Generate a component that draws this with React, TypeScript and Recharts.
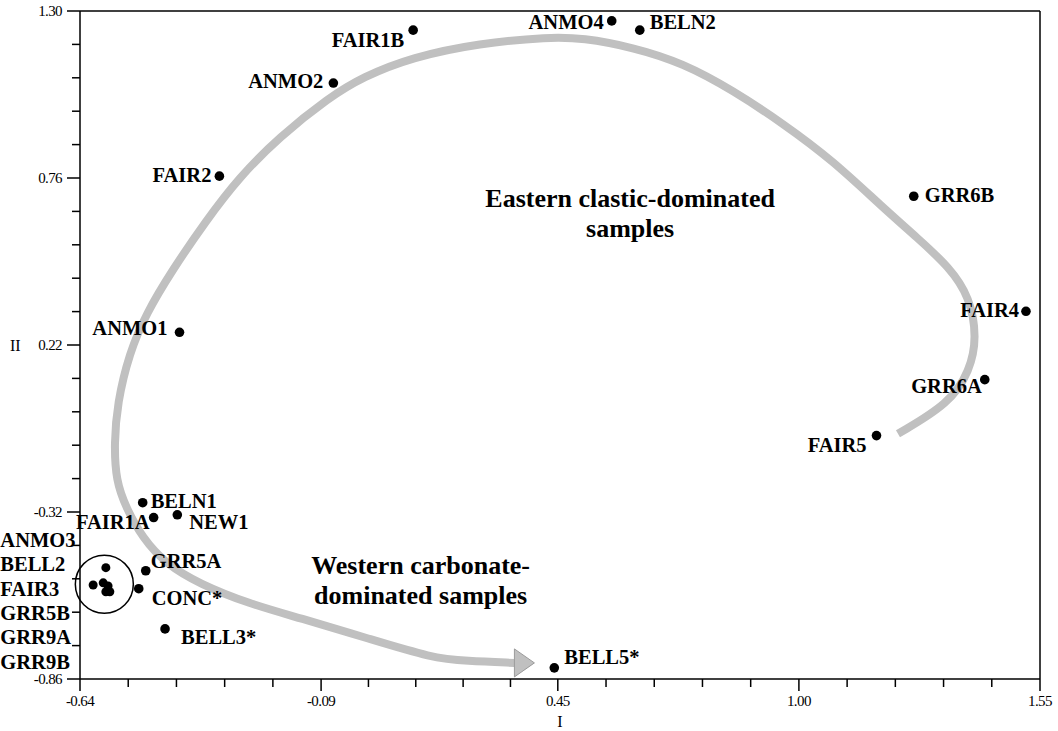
import { ComposedChart, Scatter, XAxis, YAxis, ReferenceDot } from "recharts";

// axis ticks (major, labelled); minor ticks split each gap into five
const xMajor = [-0.64, -0.09, 0.45, 1.0, 1.55];
const yMajor = [-0.86, -0.32, 0.22, 0.76, 1.3];

// individually labelled samples: scores on components I and II
const sampleNames = [
  "FAIR1B", "ANMO4", "BELN2", "ANMO2", "FAIR2", "GRR6B", "ANMO1", "FAIR4", "GRR6A",
  "FAIR5", "BELN1", "FAIR1A", "NEW1", "GRR5A", "CONC*", "BELL3*", "BELL5*",
];
const sampleI = [
  0.12, 0.573, 0.637, -0.062, -0.322, 1.262, -0.413, 1.518, 1.424,
  1.177, -0.497, -0.472, -0.418, -0.49, -0.506, -0.446, 0.442,
];
const sampleII = [
  1.238, 1.268, 1.238, 1.067, 0.766, 0.701, 0.261, 0.329, 0.108,
  -0.073, -0.29, -0.338, -0.329, -0.51, -0.568, -0.698, -0.824,
];

// tight western group, listed beside the circle
const clusterNames = ["ANMO3", "BELL2", "FAIR3", "GRR5B", "GRR9A", "GRR9B"];
const clusterI = [-0.581, -0.61, -0.587, -0.576, -0.581, -0.572];
const clusterII = [-0.5, -0.556, -0.549, -0.559, -0.578, -0.578];

// east-to-west trend arrow, traced from FAIR5 round to BELL5*
const trendI = [
  1.226, 1.344, 1.39, 1.406, 1.39, 1.344, 1.269, 1.191, 1.077, 0.963, 0.849, 0.735,
  0.621, 0.506, 0.431, 0.271, 0.118, 0.004, -0.071, -0.186, -0.277, -0.352, -0.43,
  -0.489, -0.528, -0.555, -0.562, -0.558, -0.535, -0.498, -0.444, -0.368, -0.254,
  -0.14, 0.02, 0.164, 0.241, 0.351,
];
const trendII = [
  -0.067, 0.031, 0.137, 0.244, 0.374, 0.471, 0.568, 0.665, 0.817, 0.937, 1.044, 1.132,
  1.183, 1.213, 1.216, 1.196, 1.151, 1.086, 1.021, 0.892, 0.762, 0.623, 0.461,
  0.322, 0.192, 0.031, -0.099, -0.219, -0.306, -0.403, -0.488, -0.552, -0.617,
  -0.662, -0.73, -0.792, -0.802, -0.808,
];

// group annotations
const noteLines = [
  ["Eastern clastic-dominated", "samples"],
  ["Western carbonate-", "dominated samples"],
];
const noteI = [0.615, 0.137];
const noteII = [0.665, -0.52];

// label offsets from the dot: dx, baseline dy, anchor
const labelAt: Record<string, [number, number, "start" | "end"]> = {
  FAIR1B: [-9, 17, "end"],
  ANMO4: [-8, 8, "end"],
  BELN2: [10, -1, "start"],
  ANMO2: [-10, 5, "end"],
  FAIR2: [-8, 6, "end"],
  GRR6B: [11, 6, "start"],
  ANMO1: [-12, 3, "end"],
  FAIR4: [-7, 6, "end"],
  GRR6A: [-3, 13, "end"],
  FAIR5: [-10, 16, "end"],
  BELN1: [8, 5, "start"],
  FAIR1A: [-4, 11, "end"],
  NEW1: [12, 14, "start"],
  GRR5A: [5, -3, "start"],
  "CONC*": [13, 16, "start"],
  "BELL3*": [16, 15, "start"],
  "BELL5*": [10, -4, "start"],
};

const serif = "'Liberation Serif', 'Times New Roman', serif";

const samples = sampleNames.map((name, i) => ({ name, x: sampleI[i], y: sampleII[i] }));
const cluster = clusterNames.map((name, i) => ({ name, x: clusterI[i], y: clusterII[i] }));
const trend = trendI.map((x, i) => ({ x, y: trendII[i], last: i === trendI.length - 1 }));
const clusterCentre = [
  {
    x: clusterI.reduce((a, b) => a + b, 0) / clusterI.length,
    y: clusterII.reduce((a, b) => a + b, 0) / clusterII.length,
  },
];

function withMinors(majors: number[]) {
  const out: number[] = [];
  for (let i = 0; i < majors.length - 1; i++) {
    const step = (majors[i + 1] - majors[i]) / 5;
    for (let j = 0; j < 5; j++) out.push(majors[i] + j * step);
  }
  out.push(majors[majors.length - 1]);
  return out;
}

const isMajor = (v: number, majors: number[]) => majors.some((m) => Math.abs(m - v) < 1e-6);

function XTick({ x, y, payload }: any) {
  const major = isMajor(payload.value, xMajor);
  return (
    <g>
      <line x1={x} y1={y} x2={x} y2={y + (major ? 12 : 8)} stroke="#000" strokeWidth={1.5} />
      {major && (
        <text x={x} y={y + 27} textAnchor="middle" fontFamily={serif} fontSize={15} letterSpacing={-0.6} fill="#000">
          {payload.value.toFixed(2)}
        </text>
      )}
    </g>
  );
}

function YTick({ x, y, payload }: any) {
  const major = isMajor(payload.value, yMajor);
  return (
    <g>
      <line x1={x - (major ? 13 : 8)} y1={y} x2={x} y2={y} stroke="#000" strokeWidth={1.5} />
      {major && (
        <text x={x - 18} y={y + 5} textAnchor="end" fontFamily={serif} fontSize={15} letterSpacing={-0.6} fill="#000">
          {payload.value.toFixed(2)}
        </text>
      )}
    </g>
  );
}

function XTitle({ viewBox }: any) {
  return (
    <text x={viewBox.x + viewBox.width / 2} y={viewBox.y + 48} textAnchor="middle" fontFamily={serif} fontSize={16} fill="#000">
      I
    </text>
  );
}

function SampleDot({ cx, cy, payload }: any) {
  const [dx, dy, anchor] = labelAt[payload.name] || [8, 5, "start"];
  return (
    <g>
      <circle cx={cx} cy={cy} r={4.8} fill="#000" />
      <text x={cx + dx} y={cy + dy} textAnchor={anchor} fontFamily={serif} fontWeight="bold" fontSize={20.5} fill="#000">
        {payload.name}
      </text>
    </g>
  );
}

function ClusterDot({ cx, cy }: any) {
  return <circle cx={cx} cy={cy} r={4.5} fill="#000" />;
}

// ring around the western group, with its members listed down the left margin
function ClusterRing({ cx, cy }: any) {
  return (
    <g>
      <circle cx={cx} cy={cy} r={29} fill="none" stroke="#000" strokeWidth={1.5} />
      {clusterNames.map((n, i) => (
        <text key={n} x={cx - 104} y={cy - 37 + i * 24.3} fontFamily={serif} fontWeight="bold" fontSize={20.5} fill="#000">
          {n}
        </text>
      ))}
    </g>
  );
}

function ArrowHead({ cx, cy, payload }: any) {
  if (!payload.last) return <g />;
  return (
    <polygon
      points={`${cx},${cy - 14} ${cx + 20},${cy} ${cx},${cy + 14}`}
      fill="#c0c0c0"
      stroke="#9a9a9a"
      strokeWidth={1}
    />
  );
}

function Note({ cx, cy, lines }: any) {
  return (
    <text x={cx} y={cy} textAnchor="middle" fontFamily={serif} fontWeight="bold" fontSize={26} fill="#000">
      {lines.map((l: string, i: number) => (
        <tspan key={i} x={cx} dy={i === 0 ? 0 : 30}>
          {l}
        </tspan>
      ))}
    </text>
  );
}

export default function App() {
  return (
    <div style={{ position: "absolute", left: 0, top: 0, width: 1058, height: 731, background: "#fff" }}>
      <ComposedChart width={1058} height={731} margin={{ top: 1, right: 8, bottom: 2, left: 10 }}>
        <XAxis
          type="number"
          dataKey="x"
          domain={[xMajor[0], xMajor[xMajor.length - 1]]}
          ticks={withMinors(xMajor)}
          interval={0}
          height={50}
          tickSize={0}
          tickMargin={0}
          tickLine={false}
          tick={<XTick />}
          axisLine={{ stroke: "#000", strokeWidth: 1.5 }}
          label={{ content: (p: any) => <XTitle {...p} /> }}
        />
        <XAxis
          xAxisId="top"
          orientation="top"
          type="number"
          domain={[xMajor[0], xMajor[xMajor.length - 1]]}
          height={10}
          tick={false}
          tickLine={false}
          axisLine={{ stroke: "#000", strokeWidth: 1.5 }}
        />
        <YAxis
          type="number"
          dataKey="y"
          domain={[yMajor[0], yMajor[yMajor.length - 1]]}
          ticks={withMinors(yMajor)}
          interval={0}
          width={70}
          tickSize={0}
          tickMargin={0}
          tickLine={false}
          tick={<YTick />}
          axisLine={{ stroke: "#000", strokeWidth: 1.5 }}
          label={{ value: "II", position: "insideLeft", offset: 0, fill: "#000", fontFamily: serif, fontSize: 16 }}
        />
        <YAxis
          yAxisId="right"
          orientation="right"
          type="number"
          domain={[yMajor[0], yMajor[yMajor.length - 1]]}
          width={10}
          tick={false}
          tickLine={false}
          axisLine={{ stroke: "#000", strokeWidth: 1.5 }}
        />

        <Scatter
          data={trend}
          line={{ stroke: "#c0c0c0", strokeWidth: 8, fill: "none" }}
          lineJointType="basis"
          shape={(p: any) => <ArrowHead {...p} />}
          isAnimationActive={false}
        />
        <Scatter data={clusterCentre} shape={(p: any) => <ClusterRing {...p} />} isAnimationActive={false} />
        <Scatter data={cluster} shape={(p: any) => <ClusterDot {...p} />} isAnimationActive={false} />
        <Scatter data={samples} shape={(p: any) => <SampleDot {...p} />} isAnimationActive={false} />

        {noteLines.map((lines, i) => (
          <ReferenceDot
            key={i}
            x={noteI[i]}
            y={noteII[i]}
            r={0}
            shape={(p: any) => <Note {...p} lines={lines} />}
          />
        ))}
      </ComposedChart>
    </div>
  );
}
